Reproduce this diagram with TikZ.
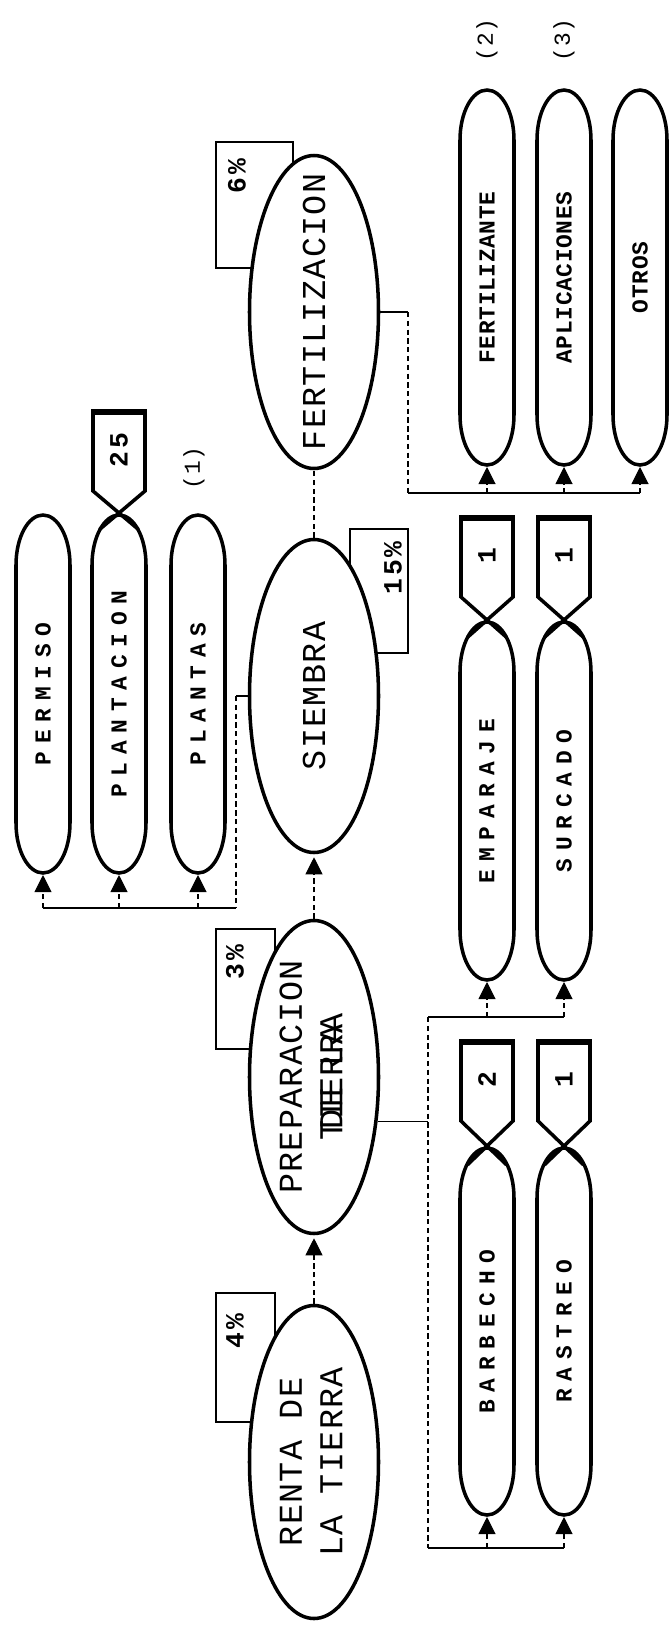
\documentclass[tikz,border=0pt]{standalone}
\usepackage{fontspec}
\usepackage{graphicx}
\usetikzlibrary{arrows.meta,positioning,shapes.geometric,calc}
\newfontfamily\stagefont[LetterSpace=4]{Liberation Mono}
\newfontfamily\itemfont[LetterSpace=34]{Liberation Mono}
\newfontfamily\itemtight[LetterSpace=3]{Liberation Mono}
\newfontfamily\numfont[LetterSpace=10]{Liberation Mono}
\newcommand{\vtext}[1]{\rotatebox{90}{\makebox[0pt]{#1}}}

\tikzset{
  stage/.style={ellipse,draw,line width=2pt,fill=white,minimum width=2.58cm,minimum height=6.26cm,inner sep=0pt,
    font=\stagefont\fontsize{19}{23}\selectfont},
  item/.style={rectangle,fill=white,inner sep=0pt,outer sep=0pt,minimum width=1.16cm,minimum height=7.24cm,
    font=\itemfont\bfseries\fontsize{13}{15}\selectfont,
    path picture={
      \draw[black,line width=2pt]
        ([xshift=-0.54cm,yshift=-1.04cm]path picture bounding box.north)
        -- ([xshift=-0.54cm,yshift=1.04cm]path picture bounding box.south)
        arc[start angle=180,end angle=360,x radius=0.54cm,y radius=1cm]
        -- ([xshift=0.54cm,yshift=-1.04cm]path picture bounding box.north)
        arc[start angle=0,end angle=180,x radius=0.54cm,y radius=1cm] -- cycle;
    }},
  tight/.style={font=\itemtight\bfseries\fontsize{13}{15}\selectfont},
  tag/.style={rectangle,fill=white,inner sep=0pt,outer sep=0pt,minimum width=1.04cm,minimum height=1.64cm,
    font=\numfont\bfseries\fontsize{15}{18}\selectfont,
    path picture={\fill[black] (path picture bounding box.north west) rectangle ([yshift=-0.11cm]path picture bounding box.north east);}},
  tagedge/.style={line width=2pt},
  pct/.style={inner sep=0pt,font=\numfont\bfseries\fontsize{15}{18}\selectfont},
  note/.style={inner sep=0pt,font=\stagefont\fontsize{13}{15}\selectfont},
  link/.style={line width=0.6pt},
  dlink/.style={line width=0.6pt,densely dashed},
  feed/.style={dlink,-{Triangle[length=0.34cm,width=0.34cm]}}
}

\begin{document}
\begin{tikzpicture}
    \useasboundingbox (0,0) rectangle (13.38,-32.52);
    % Percentage boxes (behind the stages)
    \draw[link] (4.32,-25.86) rectangle (5.50,-28.44);
    \draw[link] (4.32,-18.58) rectangle (5.50,-20.98);
    \draw[link] (7.00,-10.58) rectangle (8.16,-13.06);
    \draw[link] (4.32,-2.84) rectangle (5.86,-5.36);
    \node[pct] (p4) at (4.70,-26.62) {\vtext{4\%}};
    \node[pct] (p3) at (4.70,-19.24) {\vtext{3\%}};
    \node[pct] (p15) at (7.86,-11.36) {\vtext{15\%}};
    \node[pct] (p6) at (4.74,-3.52) {\vtext{6\%}};
    % Stages
    \node[stage] (renta) at (6.28,-29.24) {\vtext{\begin{tabular}{@{}c@{}}RENTA DE\\LA TIERRA\end{tabular}}};
    \node[stage] (prep) at (6.28,-21.54) {\vtext{\begin{tabular}{@{}c@{}}PREPARACION\\\makebox[0pt]{DE LA}\makebox[0pt]{TIERRA}\end{tabular}}};
    \node[stage] (siembra) at (6.28,-13.92) {\vtext{SIEMBRA}};
    \node[stage] (fert) at (6.28,-6.24) {\vtext{FERTILIZACION}};
    % Items
    \node[item] (permiso) at (0.86,-13.88) {\vtext{PERMISO}};
    \node[item,right=0.36cm of permiso] (plantacion) {\vtext{PLANTACION}};
    \node[item,right=0.42cm of plantacion] (plantas) {\vtext{PLANTAS}};
    \node[item] (emparaje) at (9.74,-16.02) {\vtext{EMPARAJE}};
    \node[item,right=0.38cm of emparaje] (surcado) {\vtext{SURCADO}};
    \node[item,minimum height=7.42cm] (barbecho) at (9.74,-26.63) {\vtext{BARBECHO}};
    \node[item,minimum height=7.42cm,right=0.38cm of barbecho] (rastreo) {\vtext{RASTREO}};
    \node[item,tight,minimum height=7.58cm] (fertilizante) at (9.74,-5.55) {\vtext{FERTILIZANTE}};
    \node[item,tight,minimum height=7.58cm,right=0.38cm of fertilizante] (aplicaciones) {\vtext{APLICACIONES}};
    \node[item,tight,minimum height=7.58cm,right=0.36cm of aplicaciones] (otros) {\vtext{OTROS}};
    \node[note] (n1) at (3.88,-9.36) {\vtext{(1)}};
    \node[note] (n2) at (9.74,-0.80) {\vtext{(2)}};
    \node[note] (n3) at (11.28,-0.80) {\vtext{(3)}};
    % Tags
    \node[tag,above=0.44cm of plantacion] (t25) {\vtext{25}};
    \node[tag,above=0.46cm of emparaje] (t1a) {\vtext{1}};
    \node[tag,above=0.46cm of surcado] (t1b) {\vtext{1}};
    \node[tag,above=0.5cm of barbecho] (t2) {\vtext{2}};
    \node[tag,above=0.5cm of rastreo] (t1c) {\vtext{1}};
    \draw[tagedge] (t25.north west) -- (t25.south west) -- ($(t25.south west)!1.75!(plantacion.north)$)
        (t25.north east) -- (t25.south east) -- ($(t25.south east)!1.75!(plantacion.north)$);
    \draw[tagedge] (t1a.north west) -- (t1a.south west) -- ($(t1a.south west)!1.75!(emparaje.north)$)
        (t1a.north east) -- (t1a.south east) -- ($(t1a.south east)!1.75!(emparaje.north)$);
    \draw[tagedge] (t1b.north west) -- (t1b.south west) -- ($(t1b.south west)!1.75!(surcado.north)$)
        (t1b.north east) -- (t1b.south east) -- ($(t1b.south east)!1.75!(surcado.north)$);
    \draw[tagedge] (t2.north west) -- (t2.south west) -- ($(t2.south west)!1.75!(barbecho.north)$)
        (t2.north east) -- (t2.south east) -- ($(t2.south east)!1.75!(barbecho.north)$);
    \draw[tagedge] (t1c.north west) -- (t1c.south west) -- ($(t1c.south west)!1.75!(rastreo.north)$)
        (t1c.north east) -- (t1c.south east) -- ($(t1c.south east)!1.75!(rastreo.north)$);
    % Main chain
    \draw[feed,shorten >=0.06cm] (renta) -- (prep);
    \draw[feed,shorten >=0.06cm] (prep) -- (siembra);
    \draw[dlink] (siembra) -- (fert);
    % Brackets
    \coordinate (leftbus) at (4.72,-18.16);
    \coordinate (rightbus) at (8.16,-9.86);
    \coordinate (midtop) at (8.56,-20.34);
    \coordinate (midbot) at (8.56,-30.96);
    \draw[link] (siembra.west) -- (siembra.west -| leftbus);
    \draw[dlink] (siembra.west -| leftbus) -- (leftbus);
    \draw[link] (leftbus) -- (leftbus -| permiso);
    \draw[feed] (leftbus -| permiso) -- (permiso.south);
    \draw[feed] (leftbus -| plantacion) -- (plantacion.south);
    \draw[feed] (leftbus -| plantas) -- (plantas.south);
    \draw[link] (fert.east) -- (fert.east -| rightbus);
    \draw[dlink] (fert.east -| rightbus) -- (rightbus);
    \draw[link] (rightbus) -- (rightbus -| otros);
    \draw[feed] (rightbus -| fertilizante) -- (fertilizante.south);
    \draw[feed] (rightbus -| aplicaciones) -- (aplicaciones.south);
    \draw[feed] (rightbus -| otros) -- (otros.south);
    \draw[link] (prep.-35) -- (prep.-35 -| midtop);
    \draw[dlink] (midtop) -- (midbot);
    \draw[link] (midtop) -- (midtop -| surcado);
    \draw[link] (midbot) -- (midbot -| rastreo);
    \draw[feed] (midtop -| emparaje) -- (emparaje.south);
    \draw[feed] (midtop -| surcado) -- (surcado.south);
    \draw[feed] (midbot -| barbecho) -- (barbecho.south);
    \draw[feed] (midbot -| rastreo) -- (rastreo.south);
\end{tikzpicture}
\end{document}
